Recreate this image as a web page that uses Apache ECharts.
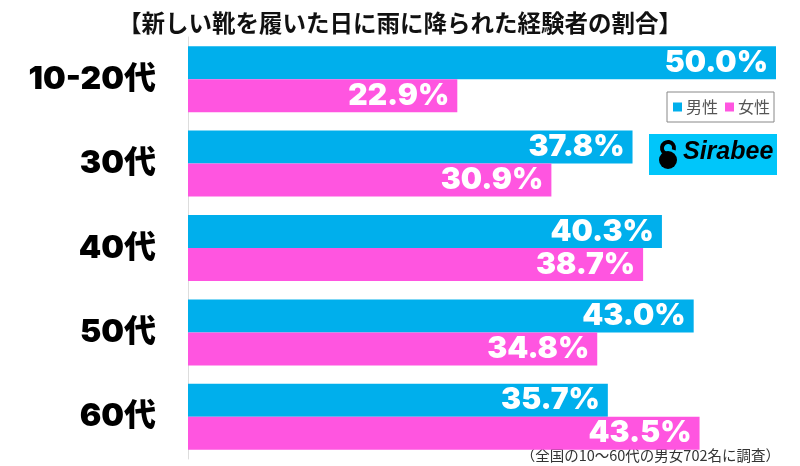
<!DOCTYPE html>
<html><head><meta charset="utf-8">
<script src="https://cdn.jsdelivr.net/npm/echarts@6/dist/echarts.min.js"></script>
<style>html,body{margin:0;padding:0;background:#fff}#c{width:800px;height:466px}</style>
</head><body><div id="c"></div>
<script>
var categories = ['10-20代', '30代', '40代', '50代', '60代'];
var male = [50.0, 37.8, 40.3, 43.0, 35.7];
var female = [22.9, 30.9, 38.7, 34.8, 43.5];
var seriesNames = ['男性', '女性'];
var titleText = '【新しい靴を履いた日に雨に降られた経験者の割合】';
var noteText = '（全国の10～60代の男女702名に調査）';

var chart = echarts.init(document.getElementById('c'));
var labelCfg = {
  show: true, position: 'insideRight', distance: 8,
  color: '#fff', fontFamily: 'Inter, "Liberation Sans", sans-serif', fontWeight: 900, fontSize: 30,
  formatter: function (p) { return p.value.toFixed(1) + '%'; }
};
chart.setOption({
  animation: false,
  title: {
    text: titleText, left: 'center', top: 6,
    textStyle: { fontFamily: '"Noto Sans CJK JP"', fontWeight: 'bold', fontSize: 23.5, color: '#111' }
  },
  legend: {
    data: seriesNames, left: 667, top: 92, itemWidth: 9, itemHeight: 9, itemGap: 7,
    borderColor: '#888', borderWidth: 1, padding: [6, 4, 6, 6], borderRadius: 0,
    textStyle: { fontFamily: '"Noto Sans CJK JP"', fontSize: 16, lineHeight: 18, color: '#555', padding: [0, 0, 0, -1] },
    icon: 'rect'
  },
  grid: { left: 188, right: 24, top: 37, bottom: 7, containLabel: false },
  xAxis: { type: 'value', min: 0, max: 50, show: false, splitLine: { show: false } },
  yAxis: {
    type: 'category', data: categories, inverse: true,
    axisLine: { show: true, lineStyle: { color: '#ddd', width: 1 } },
    axisTick: { show: false },
    axisLabel: { margin: 32, color: '#000', fontFamily: 'Inter, "Noto Sans CJK JP", sans-serif', fontWeight: 900, fontSize: 32 }
  },
  series: [
    { name: seriesNames[0], type: 'bar', data: male, barWidth: 33, barGap: '0%',
      itemStyle: { color: '#00AFEC' }, label: labelCfg },
    { name: seriesNames[1], type: 'bar', data: female, barWidth: 33,
      itemStyle: { color: '#FF55E0' }, label: labelCfg }
  ],
  graphic: [
    { type: 'rect', left: 649, top: 134, shape: { width: 128, height: 41 }, style: { fill: '#00C6FA' } },
    { type: 'circle', shape: { cx: 668, cy: 160, r: 9 }, style: { fill: '#000' } },
    { type: 'arc', shape: { cx: 668, cy: 148, r: 6, startAngle: Math.PI * 0.55, endAngle: Math.PI * 2.1 }, style: { stroke: '#000', lineWidth: 4, fill: null } },
    { type: 'text', left: 683, top: 140, style: { text: 'Sirabee', fill: '#000', font: 'italic bold 25px "Liberation Sans", Arial, sans-serif' } },
    { type: 'text', right: 20, top: 448, style: { text: noteText, fill: '#333', font: '14.5px "Noto Sans CJK JP"' } }
  ]
});
</script></body></html>
